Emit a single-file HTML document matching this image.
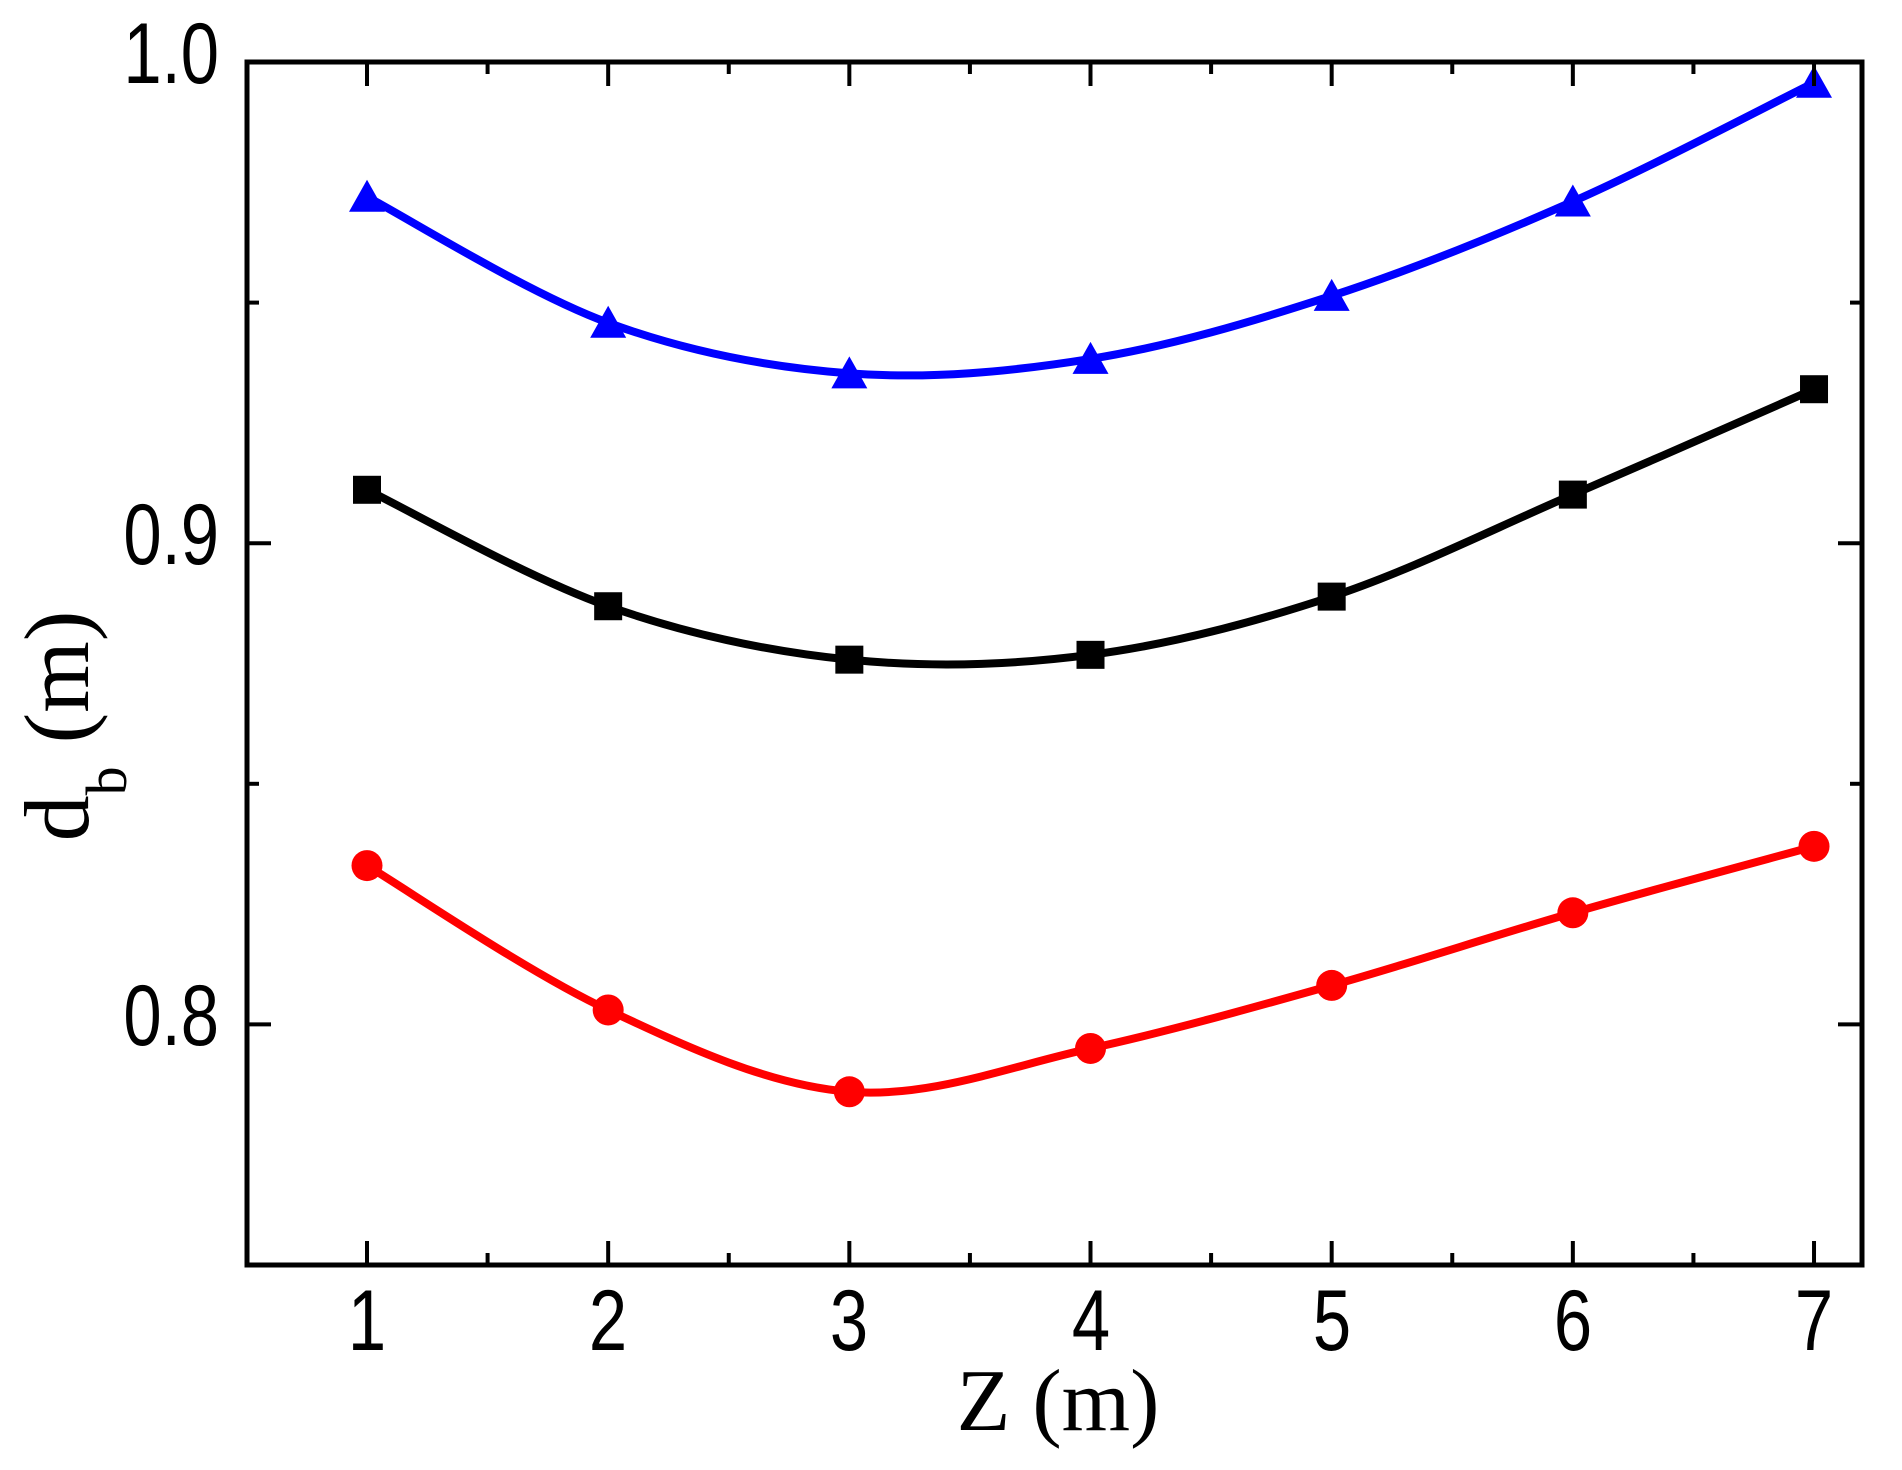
<!DOCTYPE html>
<html><head><meta charset="utf-8"><style>
html,body{margin:0;padding:0;background:#fff;}
svg{display:block;}
</style></head><body>
<svg id="s" width="1902" height="1470" viewBox="0 0 1902 1470" xmlns="http://www.w3.org/2000/svg">
<rect width="1902" height="1470" fill="#fff"/>
<g id="plot"></g>
<rect x="247" y="62" width="1615" height="1203" fill="none" stroke="#000" stroke-width="5"/>
<g id="ticks" stroke="#000" stroke-width="4"></g>
<g font-family="Liberation Sans, Arial, sans-serif" font-size="86" fill="#000">
<g transform="translate(219,83) scale(0.8,1)"><text text-anchor="end">1.0</text></g>
<g transform="translate(219,564) scale(0.8,1)"><text text-anchor="end">0.9</text></g>
<g transform="translate(219,1045) scale(0.8,1)"><text text-anchor="end">0.8</text></g>
<g transform="translate(367,1350) scale(0.8,1)"><text text-anchor="middle">1</text></g>
<g transform="translate(608,1350) scale(0.8,1)"><text text-anchor="middle">2</text></g>
<g transform="translate(849,1350) scale(0.8,1)"><text text-anchor="middle">3</text></g>
<g transform="translate(1091,1350) scale(0.8,1)"><text text-anchor="middle">4</text></g>
<g transform="translate(1332,1350) scale(0.8,1)"><text text-anchor="middle">5</text></g>
<g transform="translate(1573,1350) scale(0.8,1)"><text text-anchor="middle">6</text></g>
<g transform="translate(1814,1350) scale(0.8,1)"><text text-anchor="middle">7</text></g>
</g>
<text x="1058" y="1430" text-anchor="middle" font-family="Liberation Serif, Times New Roman, serif" font-size="88">Z (m)</text>
<text transform="translate(88,726) rotate(-90)" text-anchor="middle" font-family="Liberation Serif, Times New Roman, serif" font-size="92">d<tspan font-size="58" dy="38">b</tspan><tspan dy="-38"> (m)</tspan></text>
</svg>
<script>
(function(){
var NS="http://www.w3.org/2000/svg";
function X(x){return 367+(x-1)*241.17;}
function Y(v){return 62+(1-v)*4812;}
var t=document.getElementById('ticks');
function ln(x1,y1,x2,y2){var l=document.createElementNS(NS,'line');l.setAttribute('x1',x1);l.setAttribute('y1',y1);l.setAttribute('x2',x2);l.setAttribute('y2',y2);t.appendChild(l);}
for(var i=0;i<13;i++){var xv=1+i*0.5;var x=X(xv);if(x>1860)continue;var L=(i%2==0)?24:12;ln(x,1265,x,1265-L);ln(x,62,x,62+L);}
for(var k=0;k<6;k++){var v=1-k*0.05;var y=Y(v);var L=(k%2==0)?24:12;ln(247,y,247+L,y);ln(1862,y,1862-L,y);}
var series=[
 {c:'#0000ff',m:'tri',d:[0.972,0.9458,0.9353,0.9383,0.9514,0.971,0.9957]},
 {c:'#000000',m:'sq',d:[0.9111,0.8869,0.8758,0.8768,0.8889,0.9101,0.932]},
 {c:'#ff0000',m:'ci',d:[0.833,0.803,0.786,0.795,0.8081,0.8232,0.837]}
];
var g=document.getElementById('plot');
series.forEach(function(s){
 var p=s.d.map(function(v,i){return [X(i+1),Y(v)];});
 var d='M'+p[0][0]+','+p[0][1];
 for(var i=0;i<p.length-1;i++){
  var p0=p[Math.max(i-1,0)],p1=p[i],p2=p[i+1],p3=p[Math.min(i+2,p.length-1)];
  var c1=[p1[0]+(p2[0]-p0[0])/6,p1[1]+(p2[1]-p0[1])/6];
  var c2=[p2[0]-(p3[0]-p1[0])/6,p2[1]-(p3[1]-p1[1])/6];
  d+=' C'+c1[0]+','+c1[1]+' '+c2[0]+','+c2[1]+' '+p2[0]+','+p2[1];
 }
 var path=document.createElementNS(NS,'path');path.setAttribute('d',d);path.setAttribute('fill','none');path.setAttribute('stroke',s.c);path.setAttribute('stroke-width','8');g.appendChild(path);
 p.forEach(function(q){
  var e;
  if(s.m=='sq'){e=document.createElementNS(NS,'rect');e.setAttribute('x',q[0]-14);e.setAttribute('y',q[1]-14);e.setAttribute('width',28);e.setAttribute('height',28);}
  else if(s.m=='ci'){e=document.createElementNS(NS,'circle');e.setAttribute('cx',q[0]);e.setAttribute('cy',q[1]);e.setAttribute('r',15.5);}
  else{e=document.createElementNS(NS,'polygon');e.setAttribute('points',(q[0])+','+(q[1]-17)+' '+(q[0]-18)+','+(q[1]+15)+' '+(q[0]+18)+','+(q[1]+15));}
  e.setAttribute('fill',s.c);g.appendChild(e);
 });
});
})();
</script>
</body></html>
